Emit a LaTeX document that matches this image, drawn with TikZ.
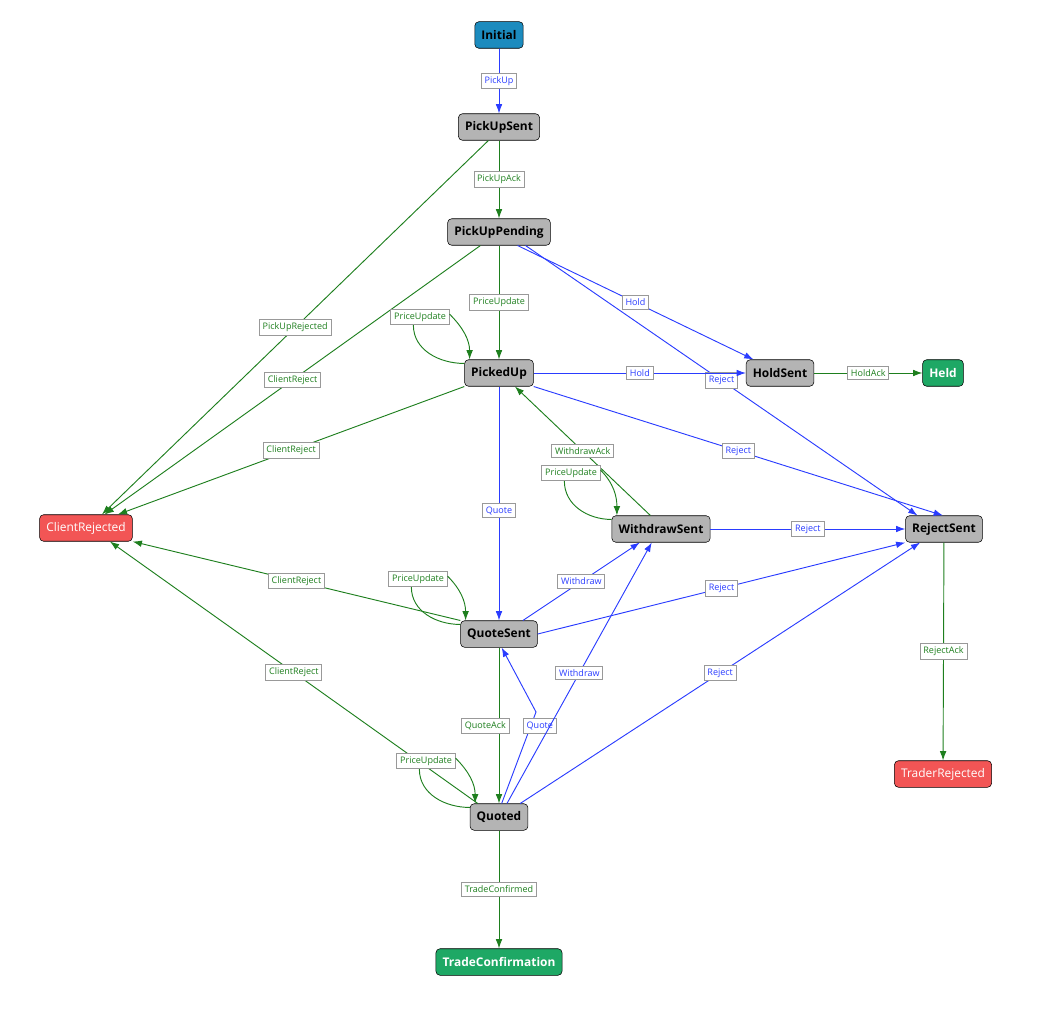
\documentclass[tikz,border=0pt]{standalone}
\usepackage{fontspec}
\setmainfont{Open Sans}
\usetikzlibrary{arrows.meta}

\definecolor{initc}{HTML}{1C8BBE}
\definecolor{statec}{HTML}{B4B4B4}
\definecolor{redc}{HTML}{F25555}
\definecolor{greenc}{HTML}{1EA865}
\definecolor{gline}{HTML}{1E7F1E}
\definecolor{bline}{HTML}{2A3CFF}

\tikzset{
  state/.style={draw=black, rounded corners=3pt, fill=statec, minimum height=20pt,
    inner xsep=5pt, font=\small\bfseries},
  init/.style={state, fill=initc},
  bad/.style={state, fill=redc, text=white, font=\small},
  good/.style={state, fill=greenc, text=white},
  lbl/.style={draw=gray!80, fill=white, line width=0.6pt, font=\fontsize{6.8}{7}\selectfont, inner sep=2.5pt},
  elbl/.style={lbl, midway},
  gr/.style={gline, line width=0.7pt, -{Latex[length=7pt,width=5pt]}},
  bl/.style={bline, line width=0.7pt, -{Latex[length=7pt,width=5pt]}},
}
% self loop: node, label name, label position
\newcommand\priceloop[3]{%
  \node[lbl, text=gline] (#2) at #3 {PriceUpdate};
  \draw[gline, line width=0.7pt] ([yshift=-3pt]#1.north west) to[out=180,in=270] ([xshift=-5pt]#2.south);
  \draw[gr] ([yshift=-4pt]#2.north east) to[out=-45,in=90] ([xshift=4pt]#1.north west);
}

\begin{document}
\begin{tikzpicture}[x=0.0265cm, y=-0.0265cm]
\useasboundingbox (0,0) rectangle (1054,1009);

% States
\node[init] (Initial) at (499,35) {Initial};
\node[state] (PickUpSent) at (499,127) {PickUpSent};
\node[state] (PickUpPending) at (499,232) {PickUpPending};
\node[state] (PickedUp) at (499,373) {PickedUp};
\node[state] (HoldSent) at (780,373) {HoldSent};
\node[good] (Held) at (943,373) {Held};
\node[bad] (ClientRejected) at (86,528) {ClientRejected};
\node[state] (WithdrawSent) at (661,529) {WithdrawSent};
\node[state] (RejectSent) at (944,529) {RejectSent};
\node[state] (QuoteSent) at (499,634) {QuoteSent};
\node[state] (Quoted) at (499,817) {Quoted};
\node[bad] (TraderRejected) at (943,774) {TraderRejected};
\node[good] (TradeConfirmation) at (499,962) {TradeConfirmation};

% Transitions
\draw[bl] (Initial) -- (PickUpSent) node[elbl, text=bline] {PickUp};
\draw[gr] (PickUpSent) -- (PickUpPending) node[elbl, text=gline] {PickUpAck};
\draw[gr] ([xshift=-8pt]PickUpSent.south) -- ([xshift=12pt]ClientRejected.north) node[elbl, text=gline] {PickUpRejected};
\draw[gr] ([xshift=-14pt]PickUpPending.south) -- ([xshift=14pt]ClientRejected.north) node[elbl, text=gline] {ClientReject};
\draw[gr] (PickUpPending) -- (PickedUp) node[elbl, text=gline] {PriceUpdate};
\draw[bl] ([xshift=14pt]PickUpPending.south) -- ([xshift=-20pt]HoldSent.north) node[elbl, text=bline] {Hold};
\draw[bl] ([xshift=20pt]PickUpPending.south) -- ([xshift=-20pt]RejectSent.north) node[elbl, text=bline] {Reject};
\draw[bl] (PickedUp) -- (HoldSent) node[elbl, text=bline] {Hold};
\draw[gr] (PickedUp.south west) -- ([xshift=24pt]ClientRejected.north) node[elbl, text=gline] {ClientReject};
\draw[bl] (PickedUp.south east) -- ([xshift=-30pt]RejectSent.north east) node[elbl, text=bline] {Reject};
\draw[bl] (PickedUp) -- (QuoteSent) node[elbl, text=bline, pos=0.53] {Quote};
\draw[gr] ([xshift=-8pt]WithdrawSent.north) -- ([xshift=12pt]PickedUp.south) node[elbl, text=gline] {WithdrawAck};
\draw[bl] (WithdrawSent) -- (RejectSent) node[elbl, text=bline] {Reject};
\draw[gr] (HoldSent) -- (Held) node[elbl, text=gline] {HoldAck};
\draw[gr] (QuoteSent.north west) -- (ClientRejected.south east) node[elbl, text=gline] {ClientReject};
\draw[bl] ([xshift=18pt]QuoteSent.north) -- ([xshift=-16pt]WithdrawSent.south) node[elbl, text=bline] {Withdraw};
\draw[bl] (QuoteSent.east) -- (RejectSent.south west) node[elbl, text=bline] {Reject};
\draw[gr] (QuoteSent) -- (Quoted) node[elbl, text=gline, anchor=east, xshift=8pt] {QuoteAck};
\coordinate (qbend) at (536,712);
\draw[bl] ([xshift=2pt]Quoted.north) -- (qbend) -- ([xshift=2pt]QuoteSent.south);
\node[lbl, text=bline, anchor=west] (quotelbl) at (523,726) {Quote};
\draw[bl] ([xshift=6pt]Quoted.north) -- ([xshift=-7pt]WithdrawSent.south) node[elbl, text=bline] {Withdraw};
\draw[bl] ([xshift=-6pt]Quoted.north east) -- ([xshift=-18pt]RejectSent.south) node[elbl, text=bline] {Reject};
\draw[gr] ([xshift=-16pt]Quoted.north) -- ([xshift=18pt]ClientRejected.south) node[elbl, text=gline] {ClientReject};
\draw[gr] (Quoted) -- (TradeConfirmation) node[elbl, text=gline] {TradeConfirmed};
\draw[gr] (RejectSent) -- (TraderRejected) node[elbl, text=gline] {RejectAck};

% PriceUpdate loops
\priceloop{PickedUp}{puloopA}{(420,317)}
\priceloop{WithdrawSent}{puloopB}{(571,473)}
\priceloop{QuoteSent}{puloopC}{(418,579)}
\priceloop{Quoted}{puloopD}{(426,761)}
\end{tikzpicture}
\end{document}
